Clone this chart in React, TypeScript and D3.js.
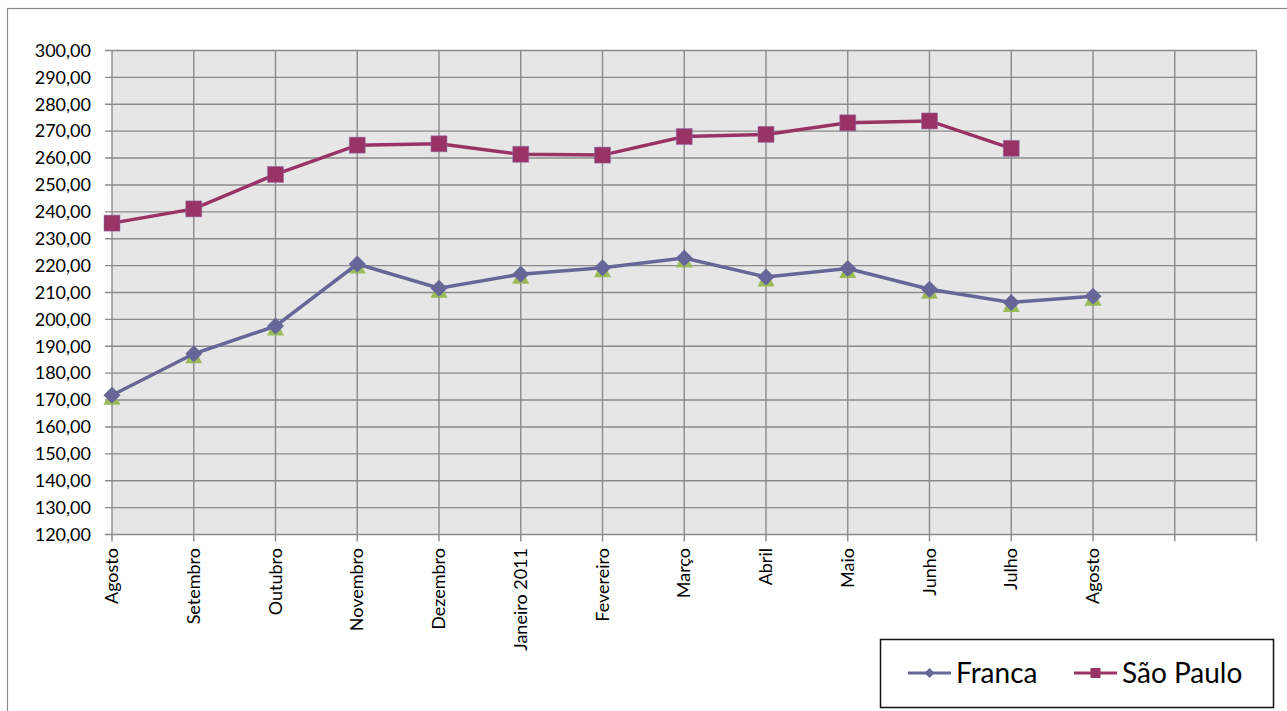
import React from 'react';
import * as d3 from 'd3';

const months = [
  'Agosto', 'Setembro', 'Outubro', 'Novembro', 'Dezembro', 'Janeiro 2011',
  'Fevereiro', 'Março', 'Abril', 'Maio', 'Junho', 'Julho', 'Agosto', '', '',
];

const franca = [171.8, 187.2, 197.5, 220.6, 211.6, 216.8, 219.2, 222.8, 215.8, 218.9, 211.2, 206.3, 208.6];
const saoPaulo = [235.8, 241.1, 253.9, 264.8, 265.3, 261.4, 261.1, 268.0, 268.8, 273.1, 273.8, 263.6];

const yTicks = d3.range(120, 301, 10);

const FONT = 'Lato, "Open Sans", sans-serif';
const W = 1287;
const H = 711;

const fmt = (v: number) => d3.format('.2f')(v).replace('.', ',');

const App = () => {
  const svgRef = React.useRef<SVGSVGElement>(null);

  React.useEffect(() => {
    const svg = d3.select(svgRef.current);
    svg.selectAll('*').remove();

    const plot = { left: 112, right: 1256.5, top: 50.5, bottom: 534.5 };

    const x = d3.scalePoint<number>()
      .domain(d3.range(months.length))
      .range([plot.left, plot.right]);
    const y = d3.scaleLinear().domain([120, 300]).range([plot.bottom, plot.top]);

    // outer chart border
    svg.append('rect')
      .attr('x', 7.5).attr('y', 8.5)
      .attr('width', W + 20).attr('height', H + 20)
      .attr('fill', 'white')
      .attr('stroke', '#888').attr('stroke-width', 1.2);

    // plot area
    svg.append('rect')
      .attr('x', plot.left).attr('y', plot.top)
      .attr('width', plot.right - plot.left).attr('height', plot.bottom - plot.top)
      .attr('fill', '#e6e6e6');

    const grid = svg.append('g').attr('stroke', '#8a8a8a').attr('stroke-width', 1.4);
    grid.selectAll('line.h')
      .data(yTicks)
      .join('line')
        .attr('class', 'h')
        .attr('x1', plot.left - 7).attr('x2', plot.right)
        .attr('y1', d => y(d)).attr('y2', d => y(d));
    grid.selectAll('line.v')
      .data(d3.range(months.length))
      .join('line')
        .attr('class', 'v')
        .attr('x1', d => x(d)!).attr('x2', d => x(d)!)
        .attr('y1', plot.top).attr('y2', plot.bottom + 7);

    // y labels
    svg.append('g')
      .selectAll('text')
      .data(yTicks)
      .join('text')
        .attr('x', 91)
        .attr('y', d => y(d))
        .attr('dy', '0.35em')
        .attr('text-anchor', 'end')
        .style('font-family', FONT)
        .style('font-size', '18px')
        .attr('fill', '#000')
        .text(d => fmt(d));

    // x labels, rotated
    svg.append('g')
      .selectAll('text')
      .data(months.map((m, i) => ({ m, i })).filter(d => d.m !== ''))
      .join('text')
        .attr('transform', d => `translate(${x(d.i)! + 6},548) rotate(-90)`)
        .attr('text-anchor', 'end')
        .style('font-family', FONT)
        .style('font-size', '18px')
        .attr('fill', '#000')
        .text(d => d.m);

    const line = d3.line<number>()
      .x((_, i) => x(i)!)
      .y(d => y(d));

    const diamond = (s: number) => `M0,${-s}L${s},0L0,${s}L${-s},0Z`;
    const square = (s: number) => `M${-s},${-s}H${s}V${s}H${-s}Z`;
    const triangle = `M0,-7L8.5,9.5L-8.5,9.5Z`;

    // São Paulo
    svg.append('path')
      .datum(saoPaulo)
      .attr('d', line)
      .attr('fill', 'none')
      .attr('stroke', '#993366')
      .attr('stroke-width', 3.5);
    svg.append('g')
      .selectAll('path')
      .data(saoPaulo)
      .join('path')
        .attr('transform', (d, i) => `translate(${x(i)},${y(d)})`)
        .attr('d', square(8))
        .attr('fill', '#993366')
        .attr('stroke', '#8a70b0')
        .attr('stroke-width', 0.5);

    // Franca
    svg.append('g')
      .selectAll('path')
      .data(franca)
      .join('path')
        .attr('transform', (d, i) => `translate(${x(i)},${y(d)})`)
        .attr('d', triangle)
        .attr('fill', '#9bbb59');
    svg.append('path')
      .datum(franca)
      .attr('d', line)
      .attr('fill', 'none')
      .attr('stroke', '#666699')
      .attr('stroke-width', 3.5);
    svg.append('g')
      .selectAll('path')
      .data(franca)
      .join('path')
        .attr('transform', (d, i) => `translate(${x(i)},${y(d)})`)
        .attr('d', diamond(8.5))
        .attr('fill', '#666699');

    // legend
    const lg = svg.append('g');
    lg.append('rect')
      .attr('x', 880.5).attr('y', 639.5)
      .attr('width', 393).attr('height', 68)
      .attr('fill', 'white')
      .attr('stroke', '#111').attr('stroke-width', 1.5);
    const items = [
      { name: 'Franca', color: '#666699', x0: 908, shape: diamond(5) },
      { name: 'São Paulo', color: '#993366', x0: 1074, shape: square(5) },
    ];
    items.forEach(it => {
      lg.append('line')
        .attr('x1', it.x0).attr('x2', it.x0 + 43)
        .attr('y1', 673).attr('y2', 673)
        .attr('stroke', it.color).attr('stroke-width', 3);
      lg.append('path')
        .attr('transform', `translate(${it.x0 + 21.5},673)`)
        .attr('d', it.shape)
        .attr('fill', it.color);
      lg.append('text')
        .attr('x', it.x0 + 48).attr('y', 683)
        .style('font-family', FONT)
        .style('font-size', '28px')
        .attr('fill', '#000')
        .text(it.name);
    });
  }, []);

  return (
    <svg
      ref={svgRef}
      width={W}
      height={H}
      style={{ position: 'absolute', left: 0, top: 0, background: 'white' }}
    />
  );
};

export default App;
